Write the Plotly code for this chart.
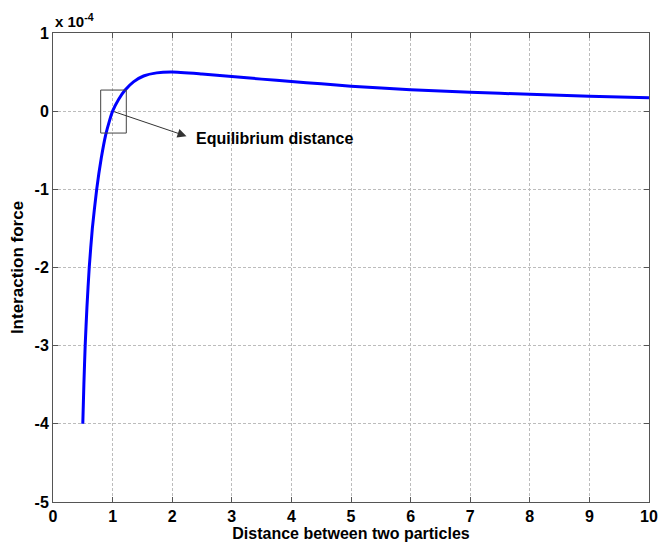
import plotly.graph_objects as go

# Distance between two particles
distance = [0.500, 0.518, 0.540, 0.570, 0.608, 0.660, 0.733, 0.810, 0.885, 0.945, 1.000,
            1.100, 1.210, 1.350, 1.520, 1.740, 2.000, 2.500, 3.000, 3.500, 4.000, 4.500,
            5.000, 6.000, 7.000, 8.000, 9.000, 10.000]
# Interaction force (units of 1e-4)
force = [-4.00, -3.50, -3.00, -2.50, -2.00, -1.50, -1.00, -0.60, -0.30, -0.13, 0.00,
         0.15, 0.27, 0.375, 0.45, 0.49, 0.50, 0.475, 0.445, 0.41, 0.38, 0.35,
         0.32, 0.275, 0.243, 0.215, 0.192, 0.172]

x_ticks = [0, 1, 2, 3, 4, 5, 6, 7, 8, 9, 10]
y_ticks = [-5, -4, -3, -2, -1, 0, 1]

box_x = [0.80, 1.23]
box_y = [-0.28, 0.27]
arrow_tail = [1.00, 0.00]
arrow_head = [2.24, -0.32]
label_pos = [2.37, -0.35]

font_family = "Liberation Sans, Arial, sans-serif"

fig = go.Figure()
fig.add_trace(go.Scatter(
    x=distance, y=force, mode="lines",
    line=dict(color="#0000ff", width=3, shape="spline", smoothing=0.5),
    showlegend=False, hoverinfo="skip"))

fig.add_shape(type="rect", x0=box_x[0], x1=box_x[1], y0=box_y[0], y1=box_y[1],
              xref="x", yref="y", line=dict(color="#444444", width=1))

fig.add_annotation(x=arrow_head[0], y=arrow_head[1], ax=arrow_tail[0], ay=arrow_tail[1],
                   xref="x", yref="y", axref="x", ayref="y", text="",
                   showarrow=True, arrowhead=2, arrowsize=1.8, arrowwidth=1,
                   arrowcolor="#333333")
fig.add_annotation(x=label_pos[0], y=label_pos[1], xref="x", yref="y",
                   text="<b>Equilibrium distance</b>", showarrow=False,
                   xanchor="left", yanchor="middle",
                   font=dict(family=font_family, size=16, color="black"))

fig.add_annotation(x=0, y=1, xref="paper", yref="paper", xanchor="left", yanchor="bottom",
                   text="<b>x 10<sup>-4</sup></b>", showarrow=False, yshift=1,
                   font=dict(family=font_family, size=15, color="black"))

axis_common = dict(
    showline=True, linecolor="#555555", linewidth=1, mirror="ticks",
    ticks="inside", ticklen=5, tickcolor="#555555",
    showgrid=True, gridcolor="#bcbcbc", gridwidth=1, griddash="3px,2px",
    zeroline=False, automargin=False,
    tickfont=dict(family=font_family, size=16, color="black"),
)

fig.update_xaxes(range=[0, 10], tickvals=x_ticks,
                 ticktext=[f"<b>{t}</b>" for t in x_ticks],
                 title=dict(text="<b>Distance between two particles</b>",
                            font=dict(family=font_family, size=16, color="black"),
                            standoff=2),
                 **axis_common)
fig.update_yaxes(range=[-5, 1], tickvals=y_ticks,
                 ticktext=[f"<b>{t}</b>" for t in y_ticks],
                 title=dict(text="<b>Interaction force</b>",
                            font=dict(family=font_family, size=17, color="black"),
                            standoff=6),
                 **axis_common)

fig.update_layout(
    width=660, height=550,
    margin=dict(l=53, r=11, t=33, b=48),
    paper_bgcolor="white", plot_bgcolor="white",
)

fig.write_html("out.html")
